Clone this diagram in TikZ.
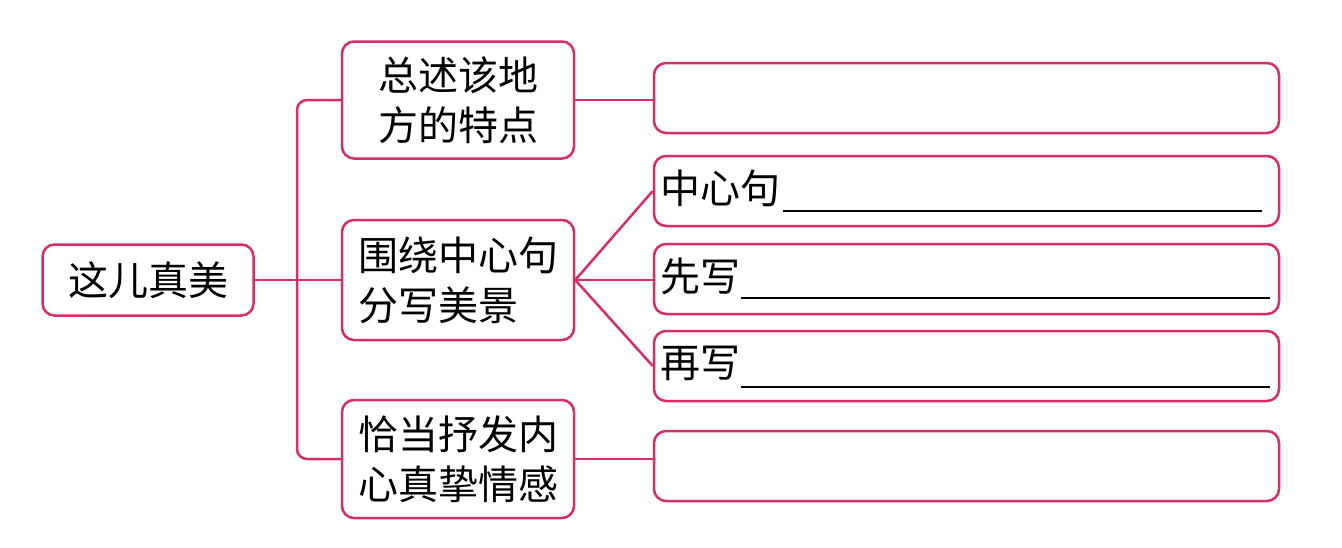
\documentclass[tikz,border=0pt]{standalone}
\usepackage{fontspec}
\newfontfamily\cjk{Noto Sans CJK SC}
\definecolor{pk}{RGB}{216,45,105}
\begin{document}
\begin{tikzpicture}[x=1pt,y=-1pt,
  box/.style={draw=pk, line width=2.5pt, rounded corners=12pt, inner sep=0pt, fill=white},
  conn/.style={draw=pk, line width=2.5pt},
  lbl/.style={font=\cjk\fontsize{40}{50}\selectfont, text=black},
  blank/.style={draw=black, line width=2pt}]
\useasboundingbox[fill=white] (0,0) rectangle (1342,547);
% left column
\node[box, lbl, minimum width=211pt, minimum height=71pt] (root) at (148,280) {这儿真美};
\coordinate (tr) at (297,280);
% middle column
\node[box, lbl, align=center, minimum width=232pt, minimum height=117pt] (A) at (458,100) {总述该地\\方的特点};
\node[box, lbl, align=left, minimum width=232pt, minimum height=120pt] (B) at (458,280) {围绕中心句\\分写美景};
\node[box, lbl, align=center, minimum width=232pt, minimum height=118pt] (C) at (458,459) {恰当抒发内\\心真挚情感};
% right column
\node[box, minimum width=625pt, minimum height=70pt] (R1) at (966.5,98) {};
\node[box, minimum width=625pt, minimum height=70pt] (S1) at (966.5,191) {};
\node[box, minimum width=625pt, minimum height=70pt] (S2) at (966.5,279) {};
\node[box, minimum width=625pt, minimum height=70pt] (S3) at (966.5,366) {};
\node[box, minimum width=625pt, minimum height=70pt] (R4) at (966.5,466) {};
% labels in sentence boxes
\node[lbl, anchor=west, inner sep=0pt] (t1) at ([xshift=8pt,yshift=3pt]S1.west) {中心句};
\node[lbl, anchor=west, inner sep=0pt] (t2) at ([xshift=8pt,yshift=3pt]S2.west) {先写};
\node[lbl, anchor=west, inner sep=0pt] (t3) at ([xshift=8pt,yshift=3pt]S3.west) {再写};
\draw[blank] (783,211) -- (1262,211);
\draw[blank] (741,298) -- (1270,298);
\draw[blank] (741,387) -- (1270,387);
% connectors
\draw[conn] (root.east) -- (tr);
\draw[conn, rounded corners=10pt] (A.west) -| (tr) |- (C.west);
\draw[conn] (tr) -- (B.west);
\draw[conn] (A.east) -- (A.east -| R1.west);
\draw[conn] (C.east) -- (C.east -| R4.west);
\draw[conn] (B.east) -- (S1.west);
\draw[conn] (B.east) -- (B.east -| S2.west);
\draw[conn] (B.east) -- (S3.west);
\end{tikzpicture}
\end{document}
